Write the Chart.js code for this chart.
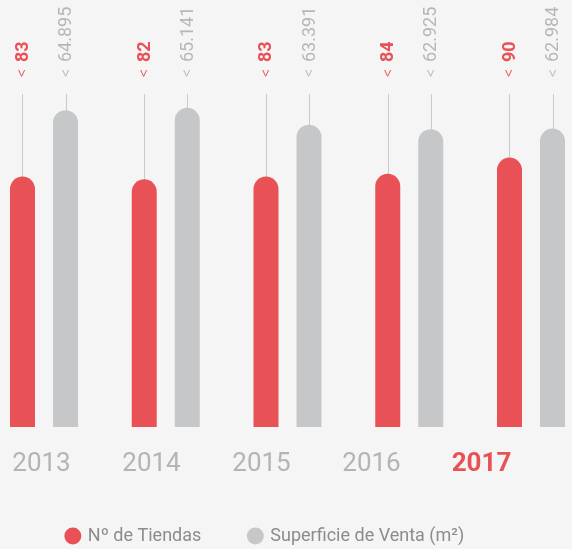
<!DOCTYPE html>
<html>
<head>
<meta charset="utf-8">
<script src="https://cdn.jsdelivr.net/npm/chart.js@4/dist/chart.umd.min.js"></script>
<style>
  html, body { margin: 0; padding: 0; background: #f5f5f5; }
  #wrap { width: 572px; height: 549px; }
</style>
</head>
<body>
<div id="wrap"><canvas id="chart"></canvas></div>
<script>
// data
const years = [2013, 2014, 2015, 2016, 2017];
const tiendas = [83, 82, 83, 84, 90];
const superficie = [64895, 65141, 63391, 62925, 62984];
const seriesNames = ["Nº de Tiendas", "Superficie de Venta (m²)"];

const RED = "#e85256";
const GRAY = "#c6c7c8";
const FONT = "Roboto";

// value axes do not start at zero in the original
const T_MIN = -9.44, T_MAX = 113.48;
const S_MIN = 32160, S_MAX = 66561;

// 64895 -> "64.895"
function fmt(v) {
  return String(v).replace(/\B(?=(\d{3})+(?!\d))/g, ".");
}

// thin lines above the bars and the rotated value labels
const valueLabels = {
  id: "valueLabels",
  beforeDatasetsDraw(chart) {
    const ctx = chart.ctx;
    const top = chart.chartArea.top;
    ctx.save();
    ctx.strokeStyle = "#cacaca";
    ctx.lineWidth = 1;
    chart.data.datasets.forEach((ds, i) => {
      chart.getDatasetMeta(i).data.forEach((bar) => {
        const x = Math.round(bar.x) + 0.5;
        ctx.beginPath();
        ctx.moveTo(x, top);
        ctx.lineTo(x, bar.y + 10);
        ctx.stroke();
      });
    });
    ctx.restore();
  },
  afterDatasetsDraw(chart) {
    const ctx = chart.ctx;
    const top = chart.chartArea.top;
    chart.data.datasets.forEach((ds, i) => {
      const color = i === 0 ? RED : "#b7b7b7";
      chart.getDatasetMeta(i).data.forEach((bar, j) => {
        const text = i === 0 ? String(ds.data[j]) : fmt(ds.data[j]);
        ctx.save();
        ctx.translate(bar.x, top - 17);
        ctx.rotate(-Math.PI / 2);
        ctx.textAlign = "left";
        ctx.textBaseline = "middle";
        ctx.fillStyle = color;
        // small chevron, then the value
        ctx.font = "300 16px " + FONT;
        ctx.fillText("<", 0, 1);
        ctx.font = (i === 0 ? "bold " : "") + "18px " + FONT;
        ctx.fillText(text, 15, 1);
        ctx.restore();
      });
    });
  },
};

new Chart(document.getElementById("chart"), {
  type: "bar",
  data: {
    labels: years,
    datasets: [
      {
        label: seriesNames[0],
        data: tiendas,
        base: T_MIN,
        backgroundColor: RED,
        borderWidth: 0,
        borderRadius: 13,
        yAxisID: "yT",
        clip: false,
      },
      {
        label: seriesNames[1],
        data: superficie,
        base: S_MIN,
        backgroundColor: GRAY,
        borderWidth: 0,
        borderRadius: 13,
        yAxisID: "yS",
        clip: false,
      },
    ],
  },
  options: {
    responsive: true,
    maintainAspectRatio: false,
    animation: false,
    categoryPercentage: 0.7064,
    barPercentage: 0.5814,
    layout: { padding: { top: 94, right: 41, bottom: -6, left: 0 } },
    plugins: {
      tooltip: { enabled: false },
      legend: {
        position: "bottom",
        labels: {
          usePointStyle: true,
          pointStyle: "circle",
          boxWidth: 12,
          boxHeight: 12,
          padding: 48,
          color: "#8c8c8c",
          font: { family: FONT, size: 18 },
        },
      },
    },
    scales: {
      x: {
        type: "linear",
        display: false,
        offset: false,
        min: 2012.6386,
        max: 2017.0,
        afterBuildTicks: (scale) => {
          scale.ticks = years.map((v) => ({ value: v }));
        },
      },
      years: {
        type: "linear",
        position: "bottom",
        offset: false,
        min: 2012.6227,
        max: 2017.45,
        afterBuildTicks: (scale) => {
          scale.ticks = years.map((v) => ({ value: v }));
        },
        grid: { display: false, drawTicks: true, tickLength: 24 },
        border: { display: false },
        ticks: {
          padding: 0,
          maxRotation: 0,
          autoSkip: false,
          callback: (v) => String(v),
          color: (c) => (c.index === years.length - 1 ? RED : "#b4b4b4"),
          font: (c) => ({
            family: FONT,
            size: 26,
            lineHeight: 1.077,
            weight: c.index === years.length - 1 ? "bold" : "normal",
          }),
        },
      },
      yT: { display: false, min: T_MIN, max: T_MAX },
      yS: { display: false, min: S_MIN, max: S_MAX },
    },
  },
  plugins: [valueLabels],
});
</script>
</body>
</html>
